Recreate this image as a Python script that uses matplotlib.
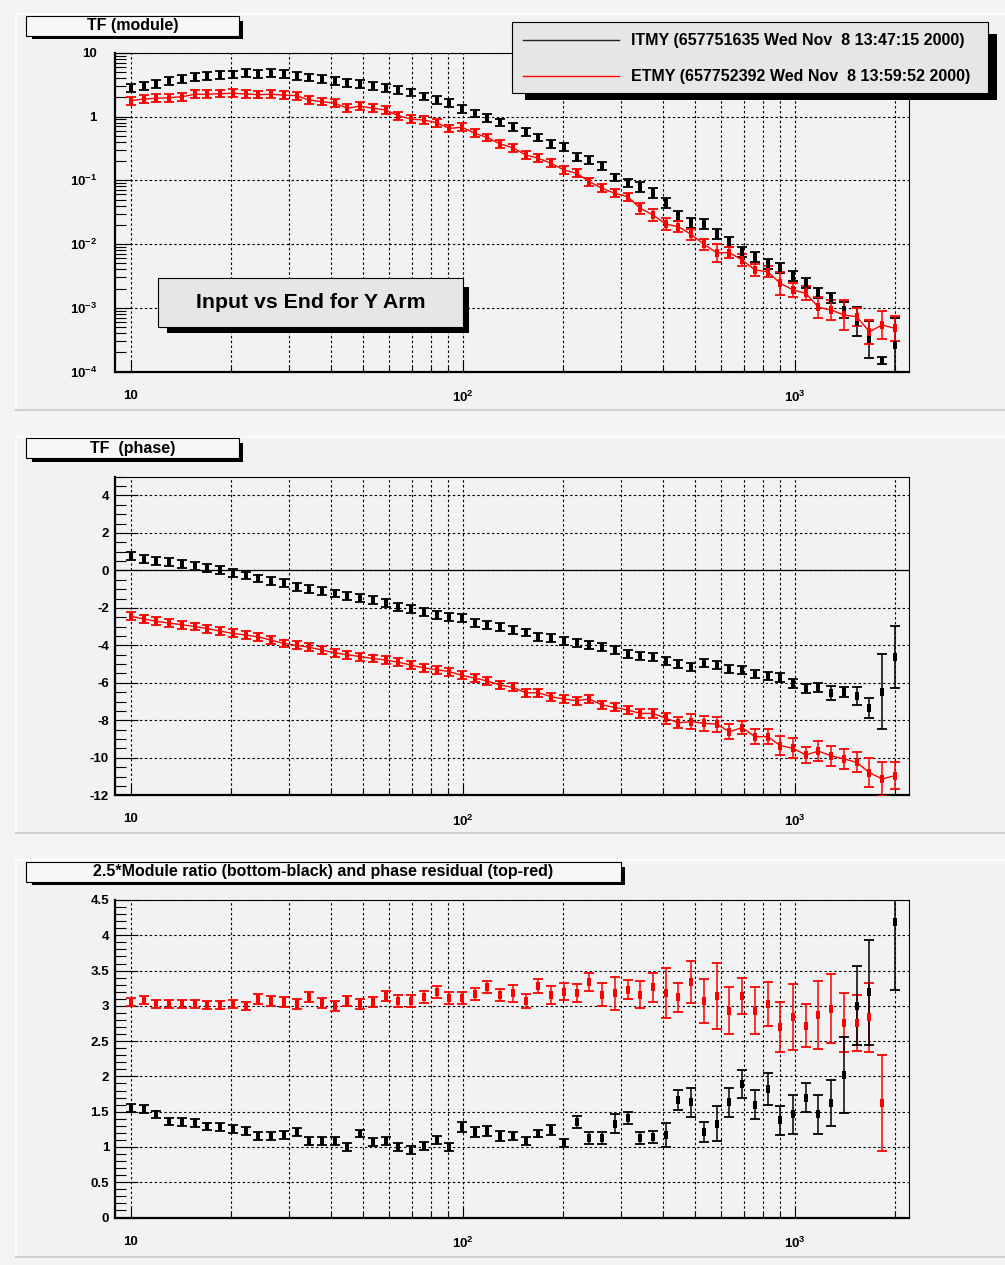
import numpy as np
import matplotlib
matplotlib.use('Agg')
import matplotlib.pyplot as plt
from matplotlib.patches import Rectangle
from matplotlib.lines import Line2D
from matplotlib.ticker import FixedLocator, FixedFormatter, MultipleLocator, NullFormatter

plt.rcParams['font.family'] = ['Liberation Sans', 'DejaVu Sans']
plt.rcParams['font.weight'] = 'bold'
plt.rcParams['mathtext.fontset'] = 'custom'
plt.rcParams['mathtext.rm'] = 'Liberation Sans:bold'
plt.rcParams['mathtext.bf'] = 'Liberation Sans:bold'
plt.rcParams['mathtext.it'] = 'Liberation Sans:bold'

# frequency points (Hz)
freq = [10.00, 10.92, 11.93, 13.03, 14.24, 15.55, 16.99, 18.56, 20.27, 22.14,
        24.18, 26.42, 28.85, 31.52, 34.43, 37.61, 41.08, 44.87, 49.02, 53.54,
        58.48, 63.88, 69.78, 76.22, 83.26, 90.94, 99.34, 108.5, 118.5, 129.5,
        141.4, 154.5, 168.7, 184.3, 201.3, 219.9, 240.2, 262.4, 286.6, 313.1,
        342.0, 373.6, 408.1, 445.7, 486.9, 531.8, 580.9, 634.6, 693.1, 757.1,
        827.1, 903.4, 986.8, 1078, 1177, 1286, 1405, 1534, 1676, 1831,
        2000]

# TF module
mod_itmy = [2.77, 3.0, 3.23, 3.6, 3.87, 4.2, 4.31, 4.42, 4.58, 4.75,
            4.69, 4.75, 4.63, 4.31, 4.11, 3.87, 3.64, 3.39, 3.2, 3.04,
            2.83, 2.6, 2.39, 2.07, 1.81, 1.61, 1.31, 1.12, 0.94, 0.81,
            0.69, 0.565, 0.466, 0.371, 0.336, 0.234, 0.208, 0.169, 0.111, 0.0917,
            0.0776, 0.064, 0.0435, 0.0279, 0.0212, 0.0206, 0.0142, 0.0109, 0.0076, 0.0062,
            0.00488, 0.00427, 0.00316, 0.00243, 0.00173, 0.00141, 0.000927, 0.000608, 0.000322, 0.000149,
            0.000262]
mod_etmy = [1.77, 1.88, 1.93, 1.97, 2.04, 2.23, 2.23, 2.28, 2.31, 2.25,
            2.20, 2.23, 2.17, 2.12, 1.81, 1.71, 1.61, 1.35, 1.46, 1.35,
            1.26, 1.03, 0.91, 0.88, 0.80, 0.65, 0.68, 0.545, 0.466, 0.371,
            0.324, 0.249, 0.221, 0.185, 0.145, 0.129, 0.095, 0.075, 0.0625, 0.0553,
            0.0364, 0.0286, 0.0206, 0.0187, 0.0142, 0.00992, 0.00733, 0.00733, 0.00564, 0.00393,
            0.00369, 0.00243, 0.00191, 0.00169, 0.00102, 0.000927, 0.000774, 0.000728, 0.000424, 0.00054,
            0.000479]
# errors on module, in decades
err_mod_itmy = [0.06, 0.06, 0.06, 0.06, 0.06, 0.06, 0.06, 0.06, 0.06, 0.06,
                0.06, 0.06, 0.06, 0.06, 0.06, 0.06, 0.06, 0.06, 0.06, 0.06,
                0.06, 0.06, 0.06, 0.06, 0.06, 0.06, 0.06, 0.06, 0.06, 0.06,
                0.06, 0.06, 0.06, 0.06, 0.06, 0.06, 0.06, 0.06, 0.06, 0.06,
                0.08, 0.08, 0.08, 0.08, 0.08, 0.08, 0.08, 0.08, 0.08, 0.08,
                0.08, 0.08, 0.08, 0.08, 0.08, 0.08, 0.12, 0.23, 0.29, 0.06,
                0.42]
err_mod_etmy = [0.06, 0.06, 0.06, 0.06, 0.06, 0.06, 0.06, 0.06, 0.06, 0.06,
                0.06, 0.06, 0.06, 0.06, 0.06, 0.06, 0.06, 0.06, 0.06, 0.06,
                0.06, 0.06, 0.06, 0.06, 0.06, 0.06, 0.06, 0.06, 0.06, 0.06,
                0.06, 0.06, 0.06, 0.06, 0.06, 0.06, 0.06, 0.06, 0.06, 0.06,
                0.09, 0.09, 0.10, 0.09, 0.09, 0.09, 0.14, 0.09, 0.09, 0.09,
                0.09, 0.18, 0.11, 0.11, 0.16, 0.16, 0.23, 0.14, 0.19, 0.22,
                0.20]

# TF phase
phase_itmy = [0.76, 0.59, 0.51, 0.43, 0.34, 0.25, 0.14, 0.02, -0.13, -0.27,
              -0.43, -0.55, -0.69, -0.87, -1.0, -1.12, -1.23, -1.37, -1.46, -1.58,
              -1.73, -1.94, -2.06, -2.21, -2.38, -2.47, -2.53, -2.79, -2.92, -3.02,
              -3.18, -3.31, -3.54, -3.59, -3.75, -3.89, -3.98, -4.11, -4.25, -4.46,
              -4.55, -4.64, -4.84, -5.0, -5.14, -4.96, -5.05, -5.28, -5.32, -5.53,
              -5.64, -5.73, -6.03, -6.29, -6.24, -6.56, -6.47, -6.69, -7.36, -6.47,
              -4.64]
phase_etmy = [-2.45, -2.59, -2.72, -2.81, -2.9, -2.99, -3.11, -3.24, -3.36, -3.45,
              -3.55, -3.72, -3.9, -4.0, -4.1, -4.25, -4.4, -4.5, -4.6, -4.7,
              -4.78, -4.9, -5.05, -5.2, -5.3, -5.4, -5.6, -5.75, -5.9, -6.12,
              -6.24, -6.53, -6.53, -6.74, -6.86, -6.95, -6.86, -7.18, -7.31, -7.45,
              -7.63, -7.63, -7.89, -8.13, -8.07, -8.16, -8.2, -8.61, -8.39, -8.87,
              -8.87, -9.35, -9.49, -9.85, -9.64, -9.9, -10.06, -10.24, -10.79, -11.13,
              -10.95]
err_phase_itmy = [0.21, 0.21, 0.21, 0.21, 0.21, 0.21, 0.21, 0.21, 0.21, 0.21,
                  0.21, 0.21, 0.21, 0.21, 0.21, 0.21, 0.21, 0.21, 0.21, 0.21,
                  0.21, 0.21, 0.21, 0.21, 0.21, 0.21, 0.21, 0.21, 0.21, 0.21,
                  0.21, 0.21, 0.21, 0.21, 0.21, 0.21, 0.21, 0.21, 0.21, 0.21,
                  0.21, 0.21, 0.21, 0.21, 0.21, 0.21, 0.21, 0.21, 0.21, 0.21,
                  0.21, 0.25, 0.25, 0.25, 0.25, 0.37, 0.27, 0.48, 0.53, 2.0,
                  1.65]
err_phase_etmy = [0.21, 0.21, 0.21, 0.21, 0.21, 0.21, 0.21, 0.21, 0.21, 0.21,
                  0.21, 0.21, 0.21, 0.21, 0.21, 0.21, 0.21, 0.21, 0.21, 0.21,
                  0.21, 0.21, 0.21, 0.21, 0.21, 0.21, 0.21, 0.21, 0.21, 0.21,
                  0.21, 0.21, 0.21, 0.21, 0.21, 0.21, 0.21, 0.21, 0.21, 0.21,
                  0.25, 0.25, 0.28, 0.30, 0.40, 0.40, 0.40, 0.40, 0.35, 0.40,
                  0.40, 0.50, 0.53, 0.45, 0.53, 0.53, 0.53, 0.53, 0.78, 0.89,
                  0.71]

# 2.5*module ratio and phase residual
nan = float('nan')
ratio_itmy = [1.55, 1.54, 1.46, 1.36, 1.35, 1.34, 1.29, 1.28, 1.26, 1.22,
              1.16, 1.16, 1.17, 1.21, 1.08, 1.09, 1.09, 1.0, 1.19, 1.07,
              1.09, 1.0, 0.96, 1.01, 1.10, 1.0, 1.28, 1.21, 1.22, 1.16,
              1.16, 1.09, 1.19, 1.24, 1.05, 1.35, 1.12, 1.12, 1.33, 1.41,
              1.13, 1.14, 1.17, 1.67, 1.63, 1.21, 1.33, 1.63, 1.89, 1.60,
              1.82, 1.375, 1.46, 1.70, 1.46, 1.62, 2.02, 3.0, 3.19, nan,
              4.19]
resid_etmy = [3.06, 3.08, 3.03, 3.03, 3.02, 3.03, 3.01, 3.01, 3.03, 3.0,
              3.1, 3.07, 3.06, 3.03, 3.12, 3.04, 3.0, 3.07, 3.03, 3.06,
              3.14, 3.07, 3.07, 3.12, 3.2, 3.11, 3.11, 3.17, 3.26, 3.16,
              3.18, 3.07, 3.28, 3.16, 3.2, 3.18, 3.34, 3.16, 3.18, 3.23,
              3.16, 3.26, 3.18, 3.12, 3.34, 3.07, 3.14, 2.93, 3.14, 2.93,
              3.03, 2.70, 2.84, 2.72, 2.87, 2.96, 2.76, 2.76, 2.84, 1.62,
              nan]
err_ratio_itmy = [0.056, 0.056, 0.056, 0.056, 0.056, 0.056, 0.056, 0.056, 0.056, 0.056,
                  0.056, 0.056, 0.056, 0.056, 0.056, 0.056, 0.056, 0.056, 0.056, 0.056,
                  0.056, 0.056, 0.056, 0.056, 0.056, 0.056, 0.07, 0.07, 0.07, 0.07,
                  0.056, 0.056, 0.056, 0.07, 0.056, 0.085, 0.085, 0.085, 0.13, 0.085,
                  0.085, 0.085, 0.17, 0.14, 0.2, 0.14, 0.25, 0.21, 0.2, 0.21,
                  0.23, 0.21, 0.28, 0.2, 0.28, 0.33, 0.54, 0.56, 0.75, nan,
                  0.96]
err_resid_etmy = [0.056, 0.056, 0.056, 0.056, 0.056, 0.056, 0.056, 0.056, 0.056, 0.056,
                  0.07, 0.07, 0.07, 0.07, 0.07, 0.07, 0.07, 0.07, 0.07, 0.07,
                  0.07, 0.085, 0.085, 0.085, 0.085, 0.085, 0.085, 0.085, 0.085, 0.085,
                  0.12, 0.10, 0.094, 0.127, 0.118, 0.127, 0.13, 0.165, 0.235, 0.13,
                  0.19, 0.21, 0.35, 0.21, 0.30, 0.31, 0.47, 0.33, 0.26, 0.33,
                  0.31, 0.35, 0.47, 0.30, 0.48, 0.49, 0.42, 0.40, 0.49, 0.68,
                  nan]

legend_labels = ['ITMY (657751635 Wed Nov  8 13:47:15 2000)',
                 'ETMY (657752392 Wed Nov  8 13:59:52 2000)']
titles = ['TF (module)', 'TF  (phase)',
          '2.5*Module ratio (bottom-black) and phase residual (top-red)']
note = 'Input vs End for Y Arm'

W, H = 1005, 1265
PAD_BG = '#f2f2f2'
RED = '#ff0000'


def frect(x0, y0, x1, y1):
    return [x0 / W, 1 - y1 / H, (x1 - x0) / W, (y1 - y0) / H]


fig = plt.figure(figsize=(W / 100, H / 100), dpi=100, facecolor='#f4f4f4')


def add_box(x0, y0, x1, y1, sx0, sy0, sx1, sy1, fc, z=10):
    r = frect(sx0, sy0, sx1, sy1)
    fig.add_artist(Rectangle((r[0], r[1]), r[2], r[3], transform=fig.transFigure,
                             facecolor='black', edgecolor='none', zorder=z))
    r = frect(x0, y0, x1, y1)
    fig.add_artist(Rectangle((r[0], r[1]), r[2], r[3], transform=fig.transFigure,
                             facecolor=fc, edgecolor='black', lw=0.8, zorder=z + 0.1))


def add_pad(top, bottom):
    r = frect(16, top, 1006, bottom)
    fig.add_artist(Rectangle((r[0], r[1]), r[2], r[3], transform=fig.transFigure,
                             facecolor=PAD_BG, edgecolor='none', zorder=-5))
    fig.add_artist(Line2D([16 / W, 16 / W, 1], [1 - bottom / H, 1 - top / H, 1 - top / H],
                          transform=fig.transFigure, color='white', lw=1.2, zorder=-4))
    fig.add_artist(Line2D([16 / W, 1], [1 - bottom / H, 1 - bottom / H],
                          transform=fig.transFigure, color='#cfcfcf', lw=1.5, zorder=-4))


for top, bottom in [(14, 410), (437, 833), (860, 1257)]:
    add_pad(top, bottom)

# small filled block, as in the original drawing
marker_rect = [(-0.32, -0.5), (0.32, -0.5), (0.32, 0.5), (-0.32, 0.5), (-0.32, -0.5)]


def draw(ax, y, lo, hi, color, line):
    ax.errorbar(freq, y, yerr=[lo, hi], fmt='none', ecolor=color, elinewidth=1.1,
                capsize=3.6, capthick=1.3, zorder=3)
    if line:
        ax.plot(freq, y, '-', color=color, lw=1.0, zorder=3)
    ax.plot(freq, y, linestyle='none', marker=marker_rect, ms=5.2, color=color,
            mew=0, zorder=4)


def setup(ax, ylab_pad, ymaj_len):
    ax.set_facecolor(PAD_BG)
    ax.set_xscale('log')
    ax.set_xlim(8.95, 2205)
    ax.xaxis.set_major_locator(FixedLocator([10, 100, 1000]))
    ax.xaxis.set_major_formatter(FixedFormatter(['10', r'$\mathbf{10^{2}}$', r'$\mathbf{10^{3}}$']))
    ax.xaxis.set_minor_locator(FixedLocator([20, 30, 40, 50, 60, 70, 80, 90,
                                             200, 300, 400, 500, 600, 700, 800, 900, 2000]))
    ax.xaxis.set_minor_formatter(NullFormatter())
    ax.grid(True, which='major', axis='both', color='black', lw=0.8, ls=(0, (2.2, 2.2)))
    ax.grid(True, which='minor', axis='x', color='black', lw=0.8, ls=(0, (2.2, 2.2)))
    ax.set_axisbelow(True)
    ax.tick_params(axis='x', which='major', direction='in', length=8.6, width=0.8,
                   pad=13, labelsize=9.5, top=False)
    ax.tick_params(axis='x', which='minor', direction='in', length=4.3, width=0.8, top=False)
    ax.tick_params(axis='y', which='major', direction='in', length=ymaj_len, width=0.8,
                   pad=ylab_pad, labelsize=9.5, right=False)
    ax.tick_params(axis='y', which='minor', direction='in', length=8, width=0.8, right=False)
    for s in ['left', 'bottom']:
        ax.spines[s].set_linewidth(1.6)
    for s in ['top', 'right']:
        ax.spines[s].set_linewidth(0.8)


# panel 1: module
ax1 = fig.add_axes(frect(115, 52.7, 909, 371.7))
setup(ax1, 13, 12)
ax1.set_yscale('log')
ax1.set_ylim(1e-4, 10)
ax1.yaxis.set_major_locator(FixedLocator([1e-4, 1e-3, 1e-2, 1e-1, 1, 10]))
ax1.yaxis.set_major_formatter(FixedFormatter([r'$\mathbf{10^{-4}}$', r'$\mathbf{10^{-3}}$',
                                              r'$\mathbf{10^{-2}}$', r'$\mathbf{10^{-1}}$',
                                              '1', '10']))
ax1.yaxis.set_minor_locator(FixedLocator([m * 10.0 ** e for e in range(-4, 1) for m in range(2, 10)]))
ax1.yaxis.set_minor_formatter(NullFormatter())
for y, e, c, ln in [(mod_itmy, err_mod_itmy, 'black', False), (mod_etmy, err_mod_etmy, RED, True)]:
    y = np.array(y)
    e = np.array(e)
    draw(ax1, y, y - y * 10 ** (-e), y * 10 ** e - y, c, ln)

# panel 2: phase
ax2 = fig.add_axes(frect(115, 476.7, 909, 795.3))
setup(ax2, 4.3, 16.5)
ax2.set_ylim(-12, 5)
ax2.yaxis.set_minor_locator(MultipleLocator(0.5))
ax2.set_yticks([-12, -10, -8, -6, -4, -2, 0, 2, 4])
ax2.set_yticklabels(['-12', '-10', '-8', '-6', '-4', '-2', '0', '2', '4'])
ax2.axhline(0, color='black', lw=0.9, zorder=2)
draw(ax2, phase_itmy, err_phase_itmy, err_phase_itmy, 'black', False)
draw(ax2, phase_etmy, err_phase_etmy, err_phase_etmy, RED, True)

# panel 3: ratio / residual
ax3 = fig.add_axes(frect(115, 900, 909, 1217.5))
setup(ax3, 4.3, 16.5)
ax3.set_ylim(0, 4.5)
ax3.yaxis.set_minor_locator(MultipleLocator(0.1))
ax3.set_yticks([0, 0.5, 1, 1.5, 2, 2.5, 3, 3.5, 4, 4.5])
ax3.set_yticklabels(['0', '0.5', '1', '1.5', '2', '2.5', '3', '3.5', '4', '4.5'])
draw(ax3, resid_etmy, err_resid_etmy, err_resid_etmy, RED, False)
draw(ax3, ratio_itmy, err_ratio_itmy, err_ratio_itmy, 'black', False)

for ax in (ax1, ax2, ax3):
    for lab in ax.get_xticklabels() + ax.get_yticklabels():
        lab.set_fontweight('bold')

# title boxes
title_boxes = [(25.7, 15.7, 239, 35.7), (25.7, 438.3, 239, 458.3), (25.7, 861.7, 620.7, 881.7)]
for t, (x0, y0, x1, y1) in zip(titles, title_boxes):
    add_box(x0, y0, x1, y1, x0 + 6, y0 + 5, x1 + 4.3, y1 + 3.6, '#f7f7f7')
    fig.text((x0 + x1) / 2 / W, 1 - (y0 + y1) / 2 / H, t, ha='center', va='center',
             fontsize=11.5, fontweight='bold', zorder=12)

# legend
add_box(512.3, 21.7, 988.3, 93.3, 525, 34, 996.7, 100, '#e6e6e6')
for i, (lab, c) in enumerate(zip(legend_labels, ['#222222', RED])):
    yy = 1 - (40 + 36 * i) / H
    fig.add_artist(Line2D([523 / W, 619 / W], [yy, yy], transform=fig.transFigure,
                          color=c, lw=1.0, zorder=12))
    fig.text(630.7 / W, yy, lab, ha='left', va='center', fontsize=11.5,
             fontweight='bold', zorder=12)

# note box
add_box(157.7, 277.7, 463.3, 327, 167.3, 287.3, 469, 332.7, '#e6e6e6')
fig.text(310.5 / W, 1 - 302.3 / H, note, ha='center', va='center', fontsize=15.3,
         fontweight='bold', zorder=12)

fig.savefig('out.png', dpi=100, facecolor=fig.get_facecolor())
